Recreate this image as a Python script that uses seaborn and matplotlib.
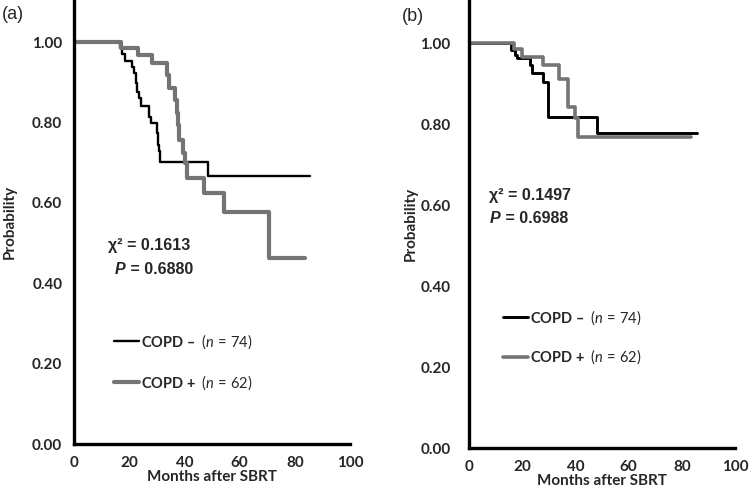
import matplotlib
matplotlib.use("Agg")
import matplotlib.pyplot as plt
import seaborn as sns

# ---------------- data ----------------
months_a_neg = [0, 16.7, 17.4, 18.3, 21.0, 21.6, 22.4, 23.0, 23.7, 24.3, 27.3, 27.9, 29.9, 30.4, 30.8, 31.2, 48.7, 85.5]
surv_a_neg = [1.0, 0.985, 0.970, 0.952, 0.938, 0.923, 0.898, 0.877, 0.861, 0.840, 0.815, 0.798, 0.773, 0.745, 0.728, 0.703, 0.667, 0.667]

months_a_pos = [0, 17.0, 23.3, 28.1, 33.6, 34.6, 36.6, 37.2, 37.6, 38.2, 39.4, 40.3, 41.1, 47.1, 54.3, 70.8, 83.7]
surv_a_pos = [1.0, 0.985, 0.968, 0.948, 0.919, 0.885, 0.856, 0.825, 0.794, 0.757, 0.724, 0.699, 0.661, 0.624, 0.578, 0.462, 0.462]

months_b_neg = [0, 15.6, 17.2, 18.1, 22.8, 23.5, 27.9, 29.7, 48.2, 85.6]
surv_b_neg = [1.0, 0.983, 0.972, 0.963, 0.946, 0.926, 0.905, 0.817, 0.778, 0.778]

months_b_pos = [0, 16.8, 19.7, 27.6, 33.9, 37.3, 39.8, 41.0, 83.3]
surv_b_pos = [1.0, 0.985, 0.965, 0.946, 0.913, 0.843, 0.815, 0.768, 0.768]

group_labels = [r"COPD –  $\mathrm{(}\mathit{n}\mathrm{\,=\,74)}$", r"COPD +  $\mathrm{(}\mathit{n}\mathrm{\,=\,62)}$"]
chi_a, p_a = "0.1613", "0.6880"
chi_b, p_b = "0.1497", "0.6988"
x_ticks = [0, 20, 40, 60, 80, 100]
y_ticks = [0.0, 0.2, 0.4, 0.6, 0.8, 1.0]
panel_labels = ["(a)", "(b)"]
xlabel = "Months after SBRT"
ylabel = "Probability"

# ---------------- style ----------------
sns.set_style("white")
plt.rcParams["font.family"] = ["Lato", "DejaVu Sans"]
plt.rcParams["mathtext.fontset"] = "custom"
plt.rcParams["mathtext.rm"] = "Lato"
plt.rcParams["mathtext.bf"] = "Lato:bold"
plt.rcParams["mathtext.it"] = "Lato:italic"

BLACK = "#000000"
GRAY = "#747474"

fig = plt.figure(figsize=(7.51, 4.99), dpi=100)
W, H = 751, 499
ax_a = fig.add_axes([74 / W, (H - 444) / H, 276 / W, 444 / H])
ax_b = fig.add_axes([469.3 / W, (H - 448) / H, 265.7 / W, 448 / H])

def style_axes(ax, ytop, ypad, ylabpad):
    ax.set_xlim(0, 100)
    ax.set_ylim(0, ytop)
    ax.set_xticks(x_ticks)
    ax.set_yticks(y_ticks)
    ax.set_xticklabels([str(v) for v in x_ticks])
    ax.set_yticklabels([f"{v:.2f}" for v in y_ticks])
    sns.despine(ax=ax)
    for s in ("left", "bottom"):
        ax.spines[s].set_linewidth(2.4)
        ax.spines[s].set_color("black")
    ax.tick_params(axis="both", direction="out", length=3.4, width=2.2, color="black",
                   labelsize=11)
    ax.tick_params(axis="x", pad=5)
    ax.tick_params(axis="y", pad=ypad)
    for lab in ax.get_xticklabels() + ax.get_yticklabels():
        lab.set_fontweight("bold")
    ax.set_xlabel(xlabel, fontsize=11, fontweight="bold", labelpad=0)
    ax.set_ylabel(ylabel, fontsize=11, fontweight="bold", labelpad=ylabpad)
    ax.grid(False)

def draw_panel(ax, tn, sn, tp, sp, lw_n, lw_p):
    sns.lineplot(x=tn, y=sn, ax=ax, drawstyle="steps-post", color=BLACK, linewidth=lw_n,
                 label=group_labels[0], sort=False)
    sns.lineplot(x=tp, y=sp, ax=ax, drawstyle="steps-post", color=GRAY, linewidth=lw_p,
                 label=group_labels[1], sort=False)

draw_panel(ax_a, months_a_neg, surv_a_neg, months_a_pos, surv_a_pos, 1.7, 3.0)
draw_panel(ax_b, months_b_neg, surv_b_neg, months_b_pos, surv_b_pos, 2.1, 2.6)

style_axes(ax_a, 1.105, 5, 11)
style_axes(ax_b, 1.107, 10, 2)

def stats(ax, x, y_chi, x_p, y_p, chi, p):
    ax.text(x, y_chi, f"χ² = {chi}", ha="left", va="center", fontsize=11.5,
            fontweight="bold", family="Liberation Sans")
    t1 = ax.text(x_p, y_p, "P", ha="left", va="center", fontsize=11.5,
                 fontweight="bold", fontstyle="italic", family="Liberation Sans")
    ax.annotate(f" = {p}", xy=(1, 0.5), xycoords=t1, ha="left", va="center",
                fontsize=11.5, fontweight="bold", family="Liberation Sans")

stats(ax_a, 12.4, 0.495, 14.9, 0.435, chi_a, p_a)
stats(ax_b, 7.5, 0.623, 7.8, 0.566, chi_b, p_b)

def legend(ax, x, y, spacing):
    leg = ax.legend(loc="upper left", bbox_to_anchor=(x, y), frameon=False,
                    borderpad=0, borderaxespad=0, handlelength=1.7, handletextpad=0.15,
                    labelspacing=spacing, prop={"size": 10.5, "weight": "bold"})
    return leg

legend(ax_a, 0.145, 0.252, 1.55)
legend(ax_b, 0.128, 0.312, 1.45)

fig.text(2 / W, 1 - 6 / H, panel_labels[0], ha="left", va="top", fontsize=13,
         family="Liberation Sans")
fig.text(402 / W, 1 - 8 / H, panel_labels[1], ha="left", va="top", fontsize=13,
         family="Liberation Sans")

fig.savefig("out.png", dpi=100)
